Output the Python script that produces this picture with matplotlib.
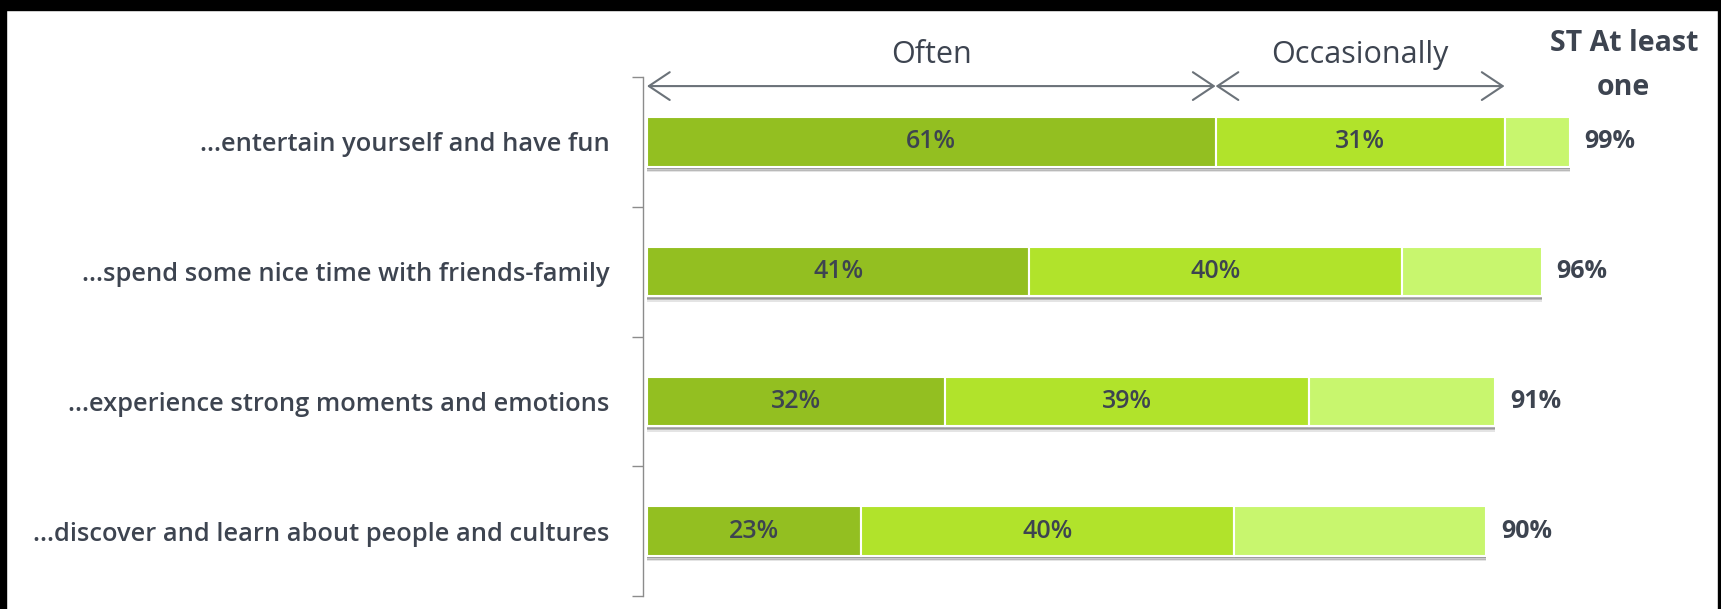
import numpy as np
import matplotlib.pyplot as plt
from matplotlib.patches import Rectangle

# Data
categories = ['...entertain yourself and have fun',
              '...spend some nice time with friends-family',
              '...experience strong moments and emotions',
              '...discover and learn about people and cultures']
often = [61, 41, 32, 23]
occasionally = [31, 40, 39, 40]
at_least_one = [99, 96, 91, 90]
header_labels = ['Often', 'Occasionally']
total_header = ['ST At least', 'one']

# Style
plt.rcParams['font.family'] = ['Open Sans', 'DejaVu Sans']
txt_color = '#3D4450'
c_often = '#93BF21'
c_occ = '#B1E32B'
c_rest = '#C8F66E'
shadow = '#7A7A7A'

often = np.array(often)
occasionally = np.array(occasionally)
at_least_one = np.array(at_least_one)
rest = at_least_one - often - occasionally
ypos = np.arange(len(categories))
bar_h = 0.38

fig = plt.figure(figsize=(17.21, 6.09), dpi=100)
ax = fig.add_axes([643 / 1721, 13 / 609, 1075 / 1721, 519 / 609])

# Drop shadows under each bar
for k, a in enumerate([0.6, 0.4, 0.2]):
    ax.barh(ypos + bar_h / 2 + 0.01 + 0.012 * k, at_least_one, height=0.02,
            left=0, color=shadow, alpha=a, linewidth=0, zorder=1)

ax.barh(ypos, often, height=bar_h, color=c_often, edgecolor='white', linewidth=1.5, zorder=2)
ax.barh(ypos, occasionally, height=bar_h, left=often, color=c_occ,
        edgecolor='white', linewidth=1.5, zorder=2)
ax.barh(ypos, rest, height=bar_h, left=often + occasionally, color=c_rest,
        edgecolor='white', linewidth=1.5, zorder=2)

for y, o, c, t in zip(ypos, often, occasionally, at_least_one):
    ax.text(o / 2, y, f'{o}%', ha='center', va='center', fontsize=18,
            fontweight='semibold', color=txt_color, zorder=3)
    ax.text(o + c / 2, y, f'{c}%', ha='center', va='center', fontsize=18,
            fontweight='semibold', color=txt_color, zorder=3)
    ax.text(t + 1.6, y, f'{t}%', ha='left', va='center', fontsize=18,
            fontweight='bold', color=txt_color, zorder=3)

# Header arrows spanning the first row's segments
arrow_y = -0.43
spans = [(0, often[0]), (often[0], often[0] + occasionally[0])]
for (x0, x1), lab in zip(spans, header_labels):
    ax.annotate('', xy=(x0, arrow_y), xytext=(x1, arrow_y),
                arrowprops=dict(arrowstyle='<->,head_length=0.6,head_width=0.4',
                                color='#6B7279', lw=1.5, shrinkA=0, shrinkB=0,
                                mutation_scale=25), annotation_clip=False)
    ax.text((x0 + x1) / 2, 1.043, lab, transform=ax.get_xaxis_transform(),
            ha='center', va='center', fontsize=22, color=txt_color)

ax.text(104.8, 1.064, total_header[0], transform=ax.get_xaxis_transform(),
        ha='center', va='center', fontsize=20.5, fontweight='bold', color=txt_color)
ax.text(104.8, 0.98, total_header[1], transform=ax.get_xaxis_transform(),
        ha='center', va='center', fontsize=20.5, fontweight='bold', color=txt_color)

ax.set_xlim(-0.43, 114.9)
ax.set_ylim(len(categories) - 0.5, -0.5)

# Ticks at category boundaries, labels at centres
ax.set_yticks(np.arange(-0.5, len(categories)), minor=False)
ax.set_yticklabels([])
ax.set_yticks(ypos, minor=True)
ax.set_yticklabels(categories, minor=True, fontsize=18.4, fontweight='semibold', color=txt_color)
ax.tick_params(axis='y', which='major', length=8, width=1, color='#8C8C8C')
ax.tick_params(axis='y', which='minor', length=0, pad=24)
ax.set_xticks([])

for s in ['top', 'right', 'bottom']:
    ax.spines[s].set_visible(False)
ax.spines['left'].set_color('#8C8C8C')
ax.spines['left'].set_linewidth(1)

# Black frame on top, left and right edges
fig.patches.append(Rectangle((0, 1 - 10 / 609), 1, 10 / 609, transform=fig.transFigure,
                             color='black', zorder=10))
fig.patches.append(Rectangle((0, 0), 6 / 1721, 1, transform=fig.transFigure,
                             color='black', zorder=10))
fig.patches.append(Rectangle((1 - 3 / 1721, 0), 3 / 1721, 1, transform=fig.transFigure,
                             color='black', zorder=10))

fig.savefig('out.png', dpi=100)
